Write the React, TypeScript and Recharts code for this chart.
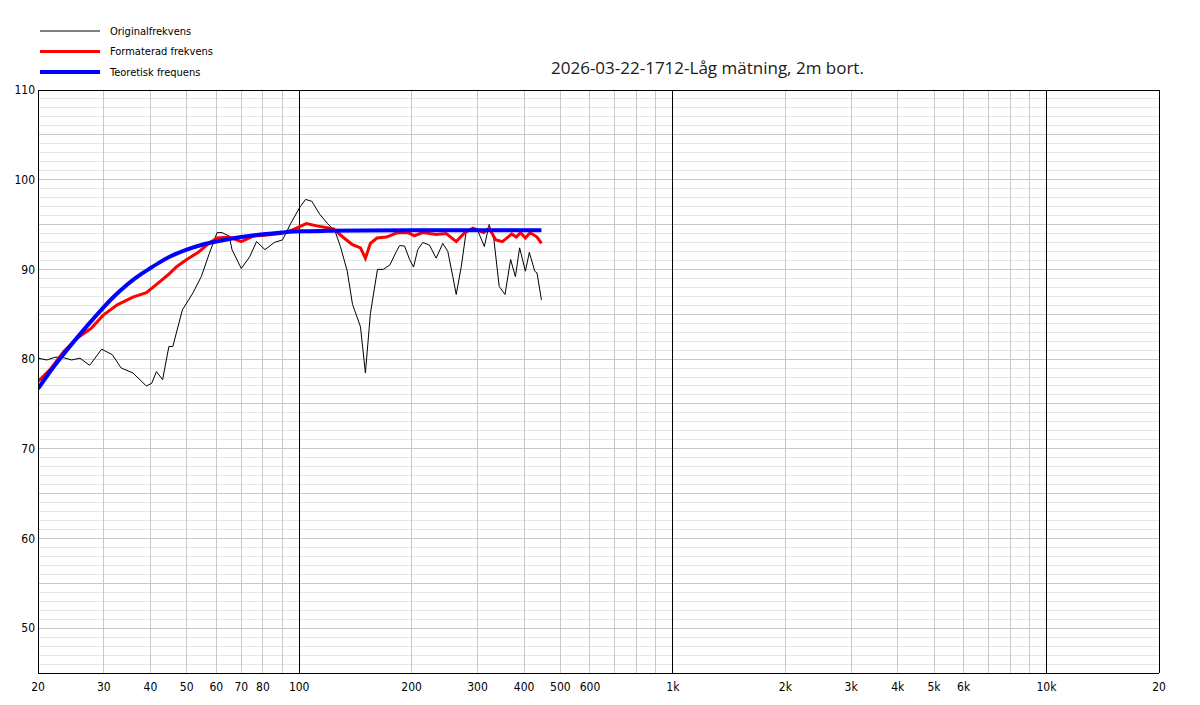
import React from "react";
import {
    LineChart,
    Line,
    XAxis,
    YAxis,
    ReferenceLine,
} from "recharts";

// Originalfrekvens (svart)
const origFreq = [20, 21.1, 22.2, 23.2, 24.6, 25.9, 27.5, 29.6, 31.6, 33.4, 35.9, 39, 40.3, 41.5, 43.1, 44.8, 45.9, 48.7, 50, 52, 54.7, 57.5, 60.3, 62.2, 65, 66.1, 70, 73.7, 76.9, 81, 85.8, 90.3, 95, 100.3, 104, 108, 113.7, 118.9, 124.9, 128.9, 134.5, 138.9, 145.9, 150.4, 155.1, 162, 167.9, 174.9, 182, 185.7, 191.4, 197.5, 202.3, 207.7, 214.2, 223.2, 232.6, 242.3, 249.9, 257.7, 263.2, 271.5, 280.2, 291.7, 300.7, 313, 322.4, 332, 343, 355.5, 368, 379, 389, 403, 413, 427, 433, 445];
const origDb = [80.1, 79.9, 80.2, 80.2, 79.9, 80.1, 79.3, 81.1, 80.5, 79.0, 78.45, 77.0, 77.3, 78.6, 77.7, 81.4, 81.4, 85.5, 86.25, 87.4, 89.2, 91.8, 94.1, 94.1, 93.7, 92.2, 90.1, 91.4, 93.1, 92.2, 93.0, 93.3, 95.15, 96.9, 97.8, 97.6, 96.1, 95.15, 94.2, 92.55, 89.8, 86.1, 83.6, 78.45, 85.1, 90.0, 90.0, 90.5, 92.0, 92.66, 92.6, 91.1, 90.26, 92.2, 93.0, 92.7, 91.25, 92.9, 92.0, 89.2, 87.2, 90.3, 94.4, 94.6, 94.3, 92.55, 95.0, 93.3, 88.1, 87.2, 91.1, 89.2, 92.4, 89.8, 91.9, 89.8, 89.6, 86.6];

// Formaterad frekvens (röd)
const fmtFreq = [20, 21.5, 23.5, 25.5, 27.8, 29.9, 32.6, 35.9, 39, 42, 44.6, 47, 50, 53.7, 57.1, 60.3, 65, 70, 75.2, 81, 89.2, 96, 104.5, 111.5, 123.6, 131.8, 138.9, 145.9, 150.4, 155.1, 161.5, 171.4, 182, 195.5, 203.5, 214, 232.6, 247.4, 263.2, 277.3, 291.7, 311.6, 322.4, 335.4, 349.8, 370.5, 381, 391, 403, 415, 433, 445];
const fmtDb = [77.5, 78.8, 80.9, 82.35, 83.45, 84.9, 86.05, 86.9, 87.4, 88.5, 89.4, 90.3, 91.1, 91.9, 92.85, 93.5, 93.6, 93.1, 93.7, 93.8, 94.0, 94.4, 95.1, 94.85, 94.5, 93.5, 92.75, 92.4, 91.25, 92.9, 93.5, 93.6, 94.05, 94.1, 93.75, 94.1, 93.9, 94.0, 93.1, 94.1, 94.6, 94.1, 94.6, 93.3, 93.1, 93.95, 93.6, 94.1, 93.5, 94.1, 93.6, 92.9];

// Teoretisk frequens (blå)
const theoFreq = [20, 21, 22, 23, 24, 25, 26, 28, 30, 32, 34, 36, 38, 40, 42, 45, 50, 55, 60, 65, 70, 80, 90, 100, 120, 150, 200, 300, 445];
const theoDb = [76.7, 77.95, 79.1, 80.15, 81.1, 82.0, 82.85, 84.4, 85.8, 87.0, 88.0, 88.85, 89.55, 90.15, 90.7, 91.4, 92.2, 92.75, 93.1, 93.38, 93.6, 93.92, 94.12, 94.25, 94.3, 94.33, 94.35, 94.35, 94.35];

const xTicks = [20, 30, 40, 50, 60, 70, 80, 100, 200, 300, 400, 500, 600, 1000, 2000, 3000, 4000, 5000, 6000, 10000, 20000];
const xTickLabels = ["20", "30", "40", "50", "60", "70", "80", "100", "200", "300", "400", "500", "600", "1k", "2k", "3k", "4k", "5k", "6k", "10k", "20"];
const yTicks = [50, 60, 70, 80, 90, 100, 110];

const grayVertical = [30, 40, 50, 60, 70, 80, 90, 200, 300, 400, 500, 600, 700, 800, 900, 2000, 3000, 4000, 5000, 6000, 7000, 8000, 9000];
const blackVertical = [100, 1000, 10000];

const legendItems = [
    { label: "Originalfrekvens", color: "#000000", width: 1 },
    { label: "Formaterad frekvens", color: "#ff0000", width: 3 },
    { label: "Teoretisk frequens", color: "#0000ff", width: 4 },
];

const title = "2026-03-22-1712-Låg mätning, 2m bort.";

const toRows = (fs: number[], vs: number[]) => fs.map((f, i) => ({ f, db: vs[i] }));

const font = '"DejaVu Sans Condensed", "Liberation Sans", sans-serif';

export default function App() {
    const origData = toRows(origFreq, origDb);
    const fmtData = toRows(fmtFreq, fmtDb);
    const theoData = toRows(theoFreq, theoDb);

    // 1 dB-linjer, starkare var 5:e dB
    const hLines: number[] = [];
    for (let v = 46; v < 110; v++) hLines.push(v);

    return (
        <div style={{ position: "absolute", left: 0, top: 0, width: 1200, height: 705, background: "#fff" }}>
            <LineChart
                width={1200}
                height={705}
                margin={{ top: 90, right: 41, left: 0, bottom: 0 }}
                style={{ fontFamily: font }}
            >
                <XAxis
                    dataKey="f"
                    type="number"
                    scale="log"
                    domain={[20, 20000]}
                    allowDataOverflow
                    ticks={xTicks}
                    tickFormatter={(v: number) => xTickLabels[xTicks.indexOf(v)] ?? ""}
                    tick={{ fontSize: 12, fill: "#000" }}
                    tickLine={false}
                    tickSize={9}
                    tickMargin={0}
                    axisLine={{ stroke: "#000", shapeRendering: "crispEdges" }}
                    height={32}
                    interval={0}
                />
                <YAxis
                    type="number"
                    domain={[45, 110]}
                    allowDataOverflow
                    ticks={yTicks}
                    tick={{ fontSize: 12, fill: "#000" }}
                    tickLine={false}
                    tickSize={3}
                    tickMargin={0}
                    axisLine={{ stroke: "#000", shapeRendering: "crispEdges" }}
                    width={38}
                    interval={0}
                />
                {hLines.map((v) => (
                    <ReferenceLine
                        key={"h" + v}
                        y={v}
                        stroke={v % 5 === 0 ? "#c8c8c8" : "#e5e5e5"}
                        strokeWidth={1}
                        shapeRendering="crispEdges"
                    />
                ))}
                {grayVertical.map((v) => (
                    <ReferenceLine key={"v" + v} x={v} stroke="#c8c8c8" strokeWidth={1} shapeRendering="crispEdges" />
                ))}
                {blackVertical.map((v) => (
                    <ReferenceLine key={"b" + v} x={v} stroke="#000" strokeWidth={1} shapeRendering="crispEdges" />
                ))}
                <ReferenceLine y={110} stroke="#000" shapeRendering="crispEdges" />
                <ReferenceLine x={20000} stroke="#000" shapeRendering="crispEdges" />
                <Line
                    data={origData}
                    dataKey="db"
                    type="linear"
                    stroke="#000000"
                    strokeWidth={1}
                    dot={false}
                    isAnimationActive={false}
                />
                <Line
                    data={fmtData}
                    dataKey="db"
                    type="linear"
                    stroke="#ff0000"
                    strokeWidth={3}
                    dot={false}
                    isAnimationActive={false}
                />
                <Line
                    data={theoData}
                    dataKey="db"
                    type="monotone"
                    stroke="#0000ff"
                    strokeWidth={4}
                    dot={false}
                    isAnimationActive={false}
                />
            </LineChart>

            <svg
                width={260}
                height={85}
                style={{ position: "absolute", left: 0, top: 0, fontFamily: font }}
            >
                {legendItems.map((item, i) => (
                    <g key={item.label}>
                        <line
                            x1={40}
                            x2={100}
                            y1={31 + i * 20.5}
                            y2={31 + i * 20.5}
                            stroke={item.color}
                            strokeWidth={item.width}
                        />
                        <text x={110} y={31 + i * 20.5} dy="0.35em" fontSize={11} fill="#000">
                            {item.label}
                        </text>
                    </g>
                ))}
            </svg>

            <div
                style={{
                    position: "absolute",
                    left: 551,
                    top: 56,
                    fontFamily: '"Open Sans", sans-serif',
                    fontSize: 17,
                    lineHeight: "24px",
                    color: "#1a1a1a",
                    whiteSpace: "nowrap",
                }}
            >
                {title}
            </div>
        </div>
    );
}
